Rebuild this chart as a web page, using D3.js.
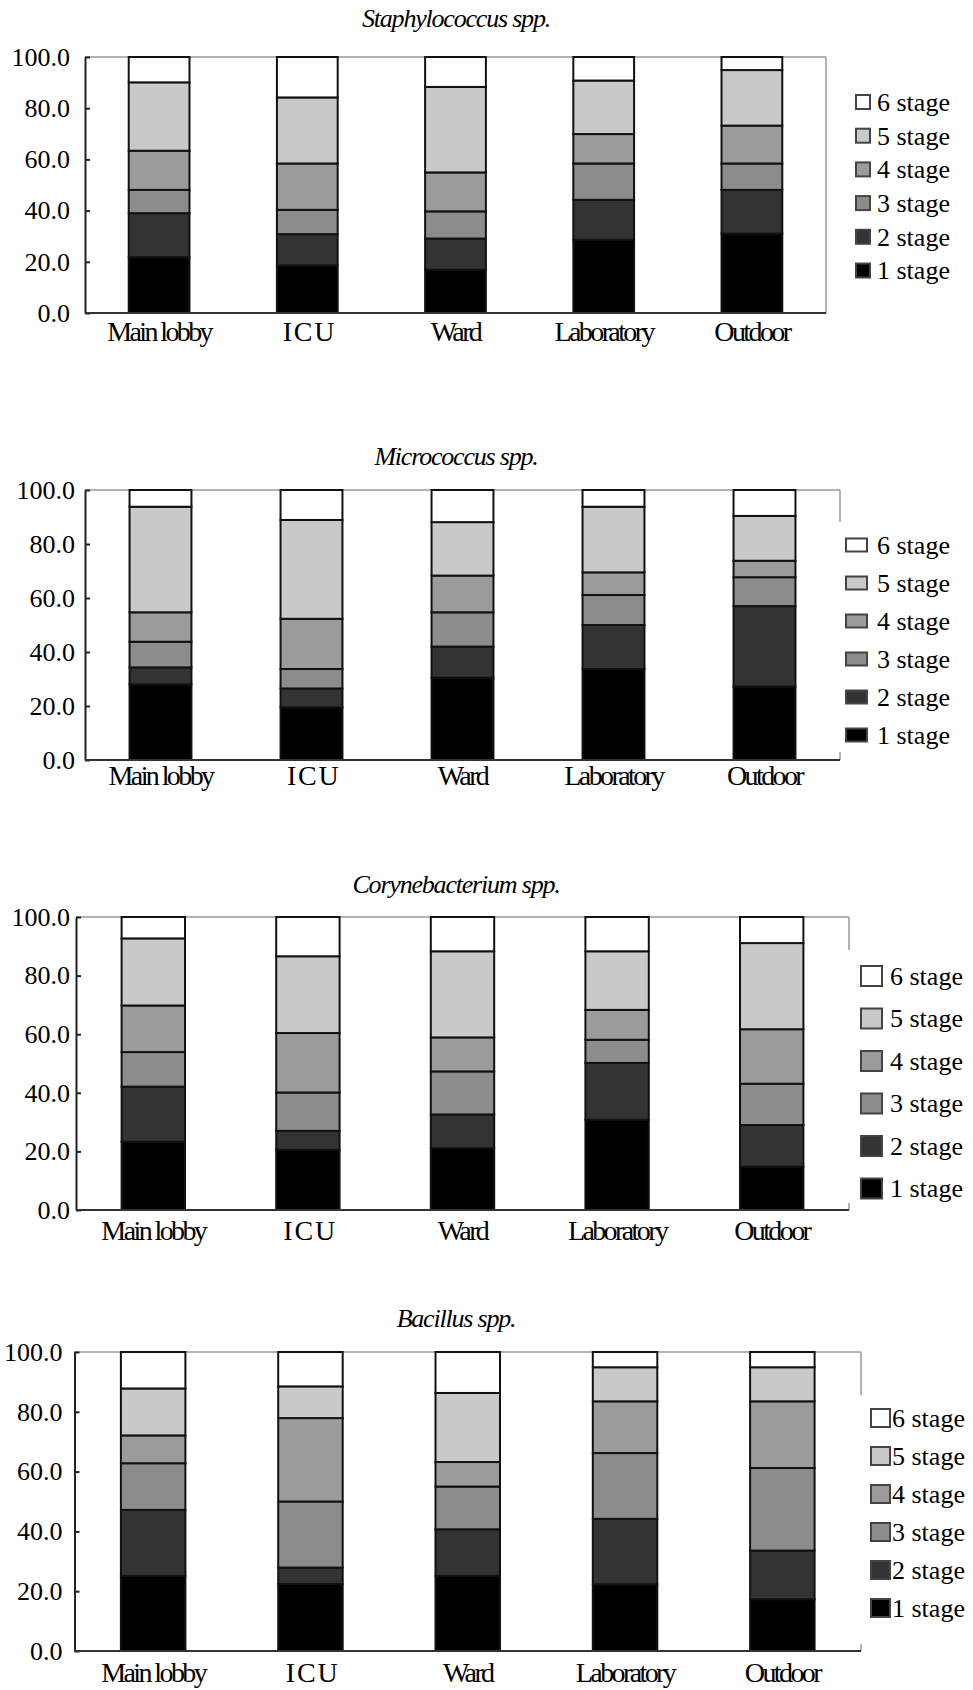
<!doctype html>
<html lang="en">
<head>
  <meta charset="utf-8">
  <title>Stage distribution by site</title>
  <script src="https://d3js.org/d3.v7.min.js"></script>
  <style>
    body { margin: 0; background: #fff; }
    svg text { font-family: "Liberation Serif", "Times New Roman", serif; fill: #000; }
  </style>
</head>
<body>
<svg id="chart" width="973" height="1690"></svg>
<script>
// data (% per stage, stage 1..6, bottom to top)
const sites = ["Main lobby", "I C U", "Ward", "Laboratory", "Outdoor"];
const stages = ["1 stage", "2 stage", "3 stage", "4 stage", "5 stage", "6 stage"];
const yTicks = [0, 20, 40, 60, 80, 100];

const staphylococcus = [
  [21.8, 17.2, 9.1, 15.3, 26.7, 9.9],
  [18.6, 12.2, 9.5, 18.1, 25.8, 15.8],
  [16.9, 12.2, 10.6, 15.2, 33.4, 11.7],
  [28.6, 15.6, 14.2, 11.5, 20.9, 9.2],
  [31.0, 17.1, 10.3, 14.8, 21.7, 5.1]
];
const micrococcus = [
  [28.0, 6.3, 9.5, 10.9, 39.1, 6.2],
  [19.5, 7.0, 7.2, 18.6, 36.6, 11.1],
  [30.5, 11.5, 12.7, 13.6, 19.8, 11.9],
  [33.7, 16.3, 11.1, 8.4, 24.3, 6.2],
  [27.2, 29.8, 10.7, 6.1, 16.6, 9.6]
];
const corynebacterium = [
  [23.3, 18.8, 11.8, 15.9, 22.9, 7.3],
  [20.5, 6.5, 13.1, 20.3, 26.2, 13.4],
  [21.1, 11.5, 14.7, 11.6, 29.4, 11.7],
  [30.8, 19.4, 7.9, 10.2, 20.0, 11.7],
  [14.8, 14.2, 14.1, 18.6, 29.4, 8.9]
];
const bacillus = [
  [25.1, 22.1, 15.6, 9.3, 15.7, 12.2],
  [22.4, 5.5, 22.1, 27.9, 10.6, 11.5],
  [25.1, 15.6, 14.3, 8.2, 23.1, 13.7],
  [22.3, 21.9, 22.0, 17.3, 11.4, 5.1],
  [17.3, 16.3, 27.6, 22.3, 11.4, 5.1]
];

const stageFill = ["#000000", "#333333", "#8c8c8c", "#9b9b9b", "#c9c9c9", "#ffffff"];

// per panel placement
const panels = [
  { title: "Staphylococcus spp.", values: staphylococcus,
    left: 85, right: 826, top: 57, bottom: 313, titleY: 27, labelY: 341, tickPad: 15,
    leg: { x: 856, y: 102, gap: 33.7, w: 14, h: 14, tx: 877 }, cover: null },
  { title: "Micrococcus spp.", values: micrococcus,
    left: 85, right: 840, top: 490, bottom: 760, titleY: 465, labelY: 785, tickPad: 10,
    leg: { x: 846, y: 545, gap: 38, w: 21, h: 13, tx: 877 }, cover: [522, 752] },
  { title: "Corynebacterium spp.", values: corynebacterium,
    left: 76, right: 849, top: 917, bottom: 1210, titleY: 893, labelY: 1240, tickPad: 6,
    leg: { x: 861, y: 976, gap: 42.5, w: 21, h: 20, tx: 890 }, cover: [950, 1203] },
  { title: "Bacillus spp.", values: bacillus,
    left: 74.5, right: 861, top: 1352, bottom: 1651, titleY: 1327, labelY: 1682, tickPad: 12,
    leg: { x: 871, y: 1418, gap: 38, w: 19, h: 18, tx: 892 }, cover: [1395, 1644] }
];

const svg = d3.select("#chart");

panels.forEach(p => {
  const g = svg.append("g");

  const x = d3.scaleBand()
    .domain(sites)
    .range([p.left, p.right])
    .paddingInner(0.59)
    .paddingOuter(0.295);

  const y = d3.scaleLinear().domain([0, 100]).range([p.bottom, p.top]);

  // frame: grey top and right, dark left and bottom
  g.append("line")
    .attr("x1", p.left).attr("x2", p.right)
    .attr("y1", y(100)).attr("y2", y(100))
    .attr("stroke", "#9a9a9a").attr("stroke-width", 1.5);
  g.append("line")
    .attr("x1", p.right).attr("x2", p.right)
    .attr("y1", y(100)).attr("y2", y(0))
    .attr("stroke", "#9a9a9a").attr("stroke-width", 1.5);

  // stacked bars
  const stacked = d3.stack().keys(d3.range(stages.length))(p.values);
  stacked.forEach((layer, k) => {
    g.selectAll(null)
      .data(layer)
      .enter()
      .append("rect")
      .attr("x", (d, i) => x(sites[i]))
      .attr("width", x.bandwidth())
      .attr("y", d => y(d[1]))
      .attr("height", d => y(d[0]) - y(d[1]))
      .attr("fill", stageFill[k])
      .attr("stroke", "#111")
      .attr("stroke-width", 2);
  });

  // white box behind the legend hides part of the right frame
  if (p.cover) {
    g.append("rect")
      .attr("x", p.right - 3).attr("y", p.cover[0])
      .attr("width", 973 - p.right + 3).attr("height", p.cover[1] - p.cover[0])
      .attr("fill", "#fff");
  }

  // y axis with inward ticks
  const yAxis = g.append("g")
    .attr("transform", `translate(${p.left},0)`)
    .call(d3.axisLeft(y).tickValues(yTicks).tickFormat(d3.format(".1f"))
      .tickSizeInner(-5).tickSizeOuter(0).tickPadding(p.tickPad));
  yAxis.select(".domain").attr("stroke", "#222").attr("stroke-width", 2);
  yAxis.selectAll(".tick line").attr("stroke", "#222").attr("stroke-width", 2);
  yAxis.selectAll(".tick text")
    .style("font-size", "26px")
    .style("font-family", "'Liberation Serif', 'Times New Roman', serif")
    .attr("fill", "#000");

  // x baseline
  g.append("line")
    .attr("x1", p.left).attr("x2", p.right)
    .attr("y1", y(0)).attr("y2", y(0))
    .attr("stroke", "#333").attr("stroke-width", 2);

  // category labels
  g.selectAll(null)
    .data(sites)
    .enter()
    .append("text")
    .attr("x", d => x(d) + x.bandwidth() / 2)
    .attr("y", p.labelY)
    .attr("text-anchor", "middle")
    .style("font-size", "28px")
    .style("letter-spacing", "-2.6px")
    .text(d => d);

  // title
  g.append("text")
    .attr("x", 456)
    .attr("y", p.titleY)
    .attr("text-anchor", "middle")
    .style("font-size", "26px")
    .style("font-style", "italic")
    .style("letter-spacing", "-1.2px")
    .text(p.title);

  // legend, 6 stage on top
  const legOrder = d3.range(stages.length).reverse();
  const leg = g.selectAll(null)
    .data(legOrder)
    .enter()
    .append("g")
    .attr("transform", (d, i) => `translate(0,${p.leg.y + i * p.leg.gap})`);
  leg.append("rect")
    .attr("x", p.leg.x)
    .attr("y", -p.leg.h / 2)
    .attr("width", p.leg.w)
    .attr("height", p.leg.h)
    .attr("fill", d => stageFill[d])
    .attr("stroke", "#444")
    .attr("stroke-width", 2);
  leg.append("text")
    .attr("x", p.leg.tx)
    .attr("dy", "0.34em")
    .style("font-size", "26px")
    .text(d => stages[d]);
});
</script>
</body>
</html>
